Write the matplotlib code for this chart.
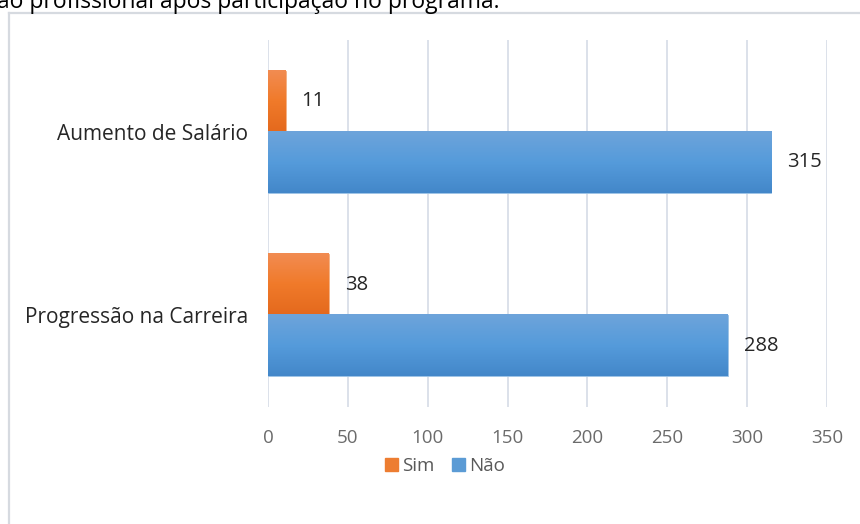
import numpy as np
import matplotlib
matplotlib.use("Agg")
import matplotlib.pyplot as plt
from matplotlib.colors import LinearSegmentedColormap
from matplotlib.lines import Line2D

# Data
categories = ["Progressão na Carreira", "Aumento de Salário"]
sim_values = [38, 11]
nao_values = [288, 315]
series_names = ["Sim", "Não"]
x_ticks = [0, 50, 100, 150, 200, 250, 300, 350]
caption = "ão profissional após participação no programa."

FONT = "Open Sans"
plt.rcParams["font.family"] = [FONT, "DejaVu Sans"]

fig = plt.figure(figsize=(8.6, 5.24), dpi=100)
fig.patch.set_facecolor("white")
ax = fig.add_axes([268 / 860, 1 - 407 / 524, (827 - 268) / 860, (407 - 40) / 524])

bar_h = 1 / 3
ypos = np.arange(len(categories))
sim_bars = ax.barh(ypos + bar_h / 2, sim_values, height=bar_h, color="#ED7D31",
                   edgecolor="#F4B183", linewidth=0.6, label=series_names[0], zorder=2)
nao_bars = ax.barh(ypos - bar_h / 2, nao_values, height=bar_h, color="#5B9BD5",
                   edgecolor="#9DC3E6", linewidth=0.6, label=series_names[1], zorder=2)

# Vertical gradient fill on every bar (lighter at the top, darker at the bottom)
grad_sim = LinearSegmentedColormap.from_list("gs", ["#E4691D", "#F07A2A", "#F28C52"])
grad_nao = LinearSegmentedColormap.from_list("gn", ["#4387C9", "#559BDB", "#6EA4DA"])
g = np.linspace(0, 1, 256).reshape(-1, 1)
for bars, cmap in ((sim_bars, grad_sim), (nao_bars, grad_nao)):
    for p in bars:
        x0, y0 = p.get_x(), p.get_y()
        w, h = p.get_width(), p.get_height()
        ax.imshow(g, cmap=cmap, aspect="auto", origin="lower",
                  extent=(x0, x0 + w, y0, y0 + h), zorder=2.5, interpolation="bilinear")

# Value labels
for bars, vals in ((sim_bars, sim_values), (nao_bars, nao_values)):
    for p, v in zip(bars, vals):
        ax.text(p.get_x() + p.get_width() + 10, p.get_y() + p.get_height() / 2, str(v),
                va="center", ha="left", fontsize=14.5, color="#262626", zorder=3)

ax.set_xlim(0, 350)
ax.set_ylim(-0.5, 1.5)
ax.set_xticks(x_ticks)
ax.set_xticklabels([str(t) for t in x_ticks])
ax.set_yticks(ypos)
ax.set_yticklabels(categories)
ax.tick_params(axis="x", length=0, pad=16, labelsize=13.5, labelcolor="#6B6B6B")
ax.tick_params(axis="y", length=0, pad=14.5, labelsize=15, labelcolor="#262626")
ax.grid(axis="x", color="#D9DEE8", linewidth=1.3, zorder=0)
ax.set_axisbelow(True)
for s in ax.spines.values():
    s.set_visible(False)

# Legend
handles = [plt.Rectangle((0, 0), 1, 1, color="#ED7D31"),
           plt.Rectangle((0, 0), 1, 1, color="#5B9BD5")]
fig.legend(handles, series_names, loc="center", bbox_to_anchor=(445 / 860, 1 - 466 / 524),
           ncol=2, frameon=False, fontsize=13.5, labelcolor="#595959",
           handlelength=0.7, handleheight=0.7, handletextpad=0.25, columnspacing=0.9)

# Chart frame (left and top edges)
fig.add_artist(Line2D([9 / 860, 9 / 860], [0, 1 - 13 / 524], transform=fig.transFigure,
                      color="#D6DAE0", linewidth=1.6))
fig.add_artist(Line2D([9 / 860, 1], [1 - 13 / 524, 1 - 13 / 524], transform=fig.transFigure,
                      color="#D6DAE0", linewidth=1.6))

# Caption line above the chart, running off the top edge of the page
fig.text(-3 / 860, 1 - 8 / 524, caption, ha="left", va="baseline", fontsize=16.5, color="#000000")

fig.savefig("out.png", dpi=100, facecolor="white")
